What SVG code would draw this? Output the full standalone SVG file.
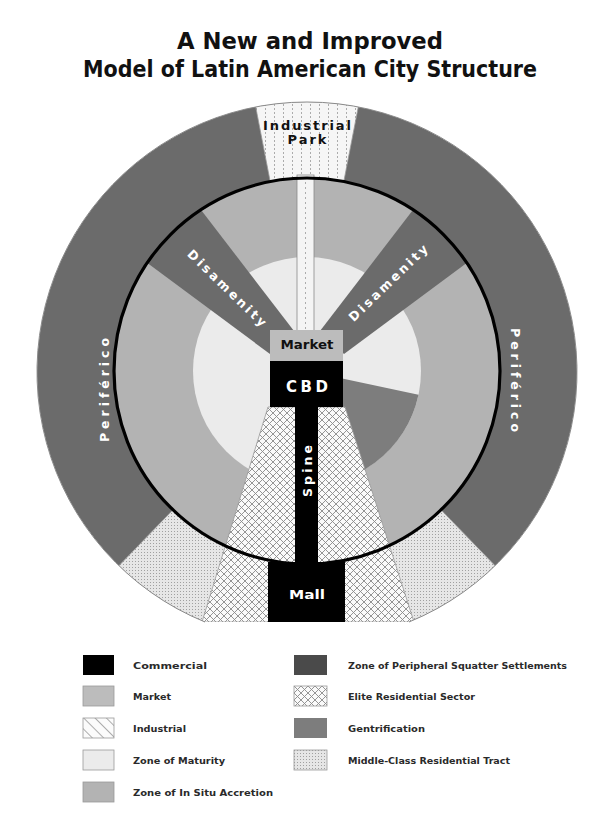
<svg xmlns="http://www.w3.org/2000/svg" width="604" height="826" viewBox="0 0 604 826">
<style>
.t{font-family:"DejaVu Sans",Lato,sans-serif;font-weight:bold}
.title{font-size:23.5px;fill:#111;text-anchor:middle}
.lg{font-size:9.5px;fill:#2a2a2a}
.wl{fill:#fff;text-anchor:middle;dominant-baseline:central}
.bl{fill:#111;text-anchor:middle;dominant-baseline:central}
.sw{stroke:#999;stroke-width:0.8}
</style>
<defs>
<pattern id="cross" patternUnits="userSpaceOnUse" width="7" height="7">
<rect width="7" height="7" fill="#fafafa"/>
<path d="M0,0L7,7M7,0L0,7" stroke="#8a8a8a" stroke-width="0.9"/>
</pattern>
<pattern id="dots" patternUnits="userSpaceOnUse" width="3" height="3">
<rect width="3" height="3" fill="#e6e6e6"/>
<rect width="1" height="1" fill="#a0a0a0"/>
</pattern>
<pattern id="ipark" patternUnits="userSpaceOnUse" width="9" height="4">
<rect width="9" height="4" fill="#f6f6f6"/>
<rect x="4" y="0" width="0.8" height="2" fill="#9a9a9a"/>
</pattern>
<pattern id="diag" patternUnits="userSpaceOnUse" width="8" height="8" patternTransform="rotate(45)">
<rect width="8" height="8" fill="#fbfbfb"/>
<rect x="0" y="0" width="8" height="0.8" fill="#999"/>
</pattern>
<clipPath id="outerClip"><path d="M205,622 A270,270 0 1 1 409,622 Z"/></clipPath>
<clipPath id="innerClip"><circle cx="307" cy="371" r="193"/></clipPath>
</defs>
<rect width="604" height="826" fill="#fff"/>

<g id="title" class="t">
<text class="title" x="310" y="49" textLength="266" lengthAdjust="spacingAndGlyphs">A New and Improved</text>
<text class="title" x="310" y="77" textLength="454" lengthAdjust="spacingAndGlyphs">Model of Latin American City Structure</text>
</g>

<g id="outer-ring" clip-path="url(#outerClip)">
<path id="periferico" d="M205,622 A270,270 0 1 1 409,622 Z" fill="#6b6b6b"/>
<path id="industrial-park" d="M307,371 L253.6,96.1 A280,280 0 0 1 360.4,96.1 Z" fill="url(#ipark)" stroke="#999" stroke-width="0.8"/>
<path id="middle-class" d="M307,371 L508.5,579.6 A290,290 0 0 1 105.5,579.6 Z" fill="url(#dots)" stroke="#999" stroke-width="0.8"/>
</g>

<g id="inner-city">
<circle id="accretion" cx="307" cy="371" r="193" fill="#b3b3b3"/>
<circle id="maturity" cx="307" cy="371" r="114" fill="#ebebeb"/>
<path id="gentrification" d="M307,371 L418.5,394.7 A114,114 0 0 1 297.1,484.6 Z" fill="#7d7d7d"/>
<g clip-path="url(#innerClip)" fill="#6b6b6b">
<polygon id="disamenity-left" points="294,331 175,176 115,239 270,354"/>
<polygon id="disamenity-right" points="320,331 439,176 499,239 344,354"/>
</g>
</g>

<g id="elite" clip-path="url(#outerClip)">
<polygon points="268,407 345,407 414,622 202,622" fill="url(#cross)" stroke="#999" stroke-width="0.8"/>
</g>

<g id="industrial-corridor">
<rect x="297" y="175" width="17" height="156" fill="#f4f4f4" stroke="#8a8a8a" stroke-width="0.8"/>
<line x1="305.5" y1="177" x2="305.5" y2="330" stroke="#999" stroke-width="0.8" stroke-dasharray="2 3"/>
</g>

<g id="rings">
<circle cx="307" cy="371" r="193" fill="none" stroke="#000" stroke-width="3.2"/>
<path d="M205,622 A270,270 0 1 1 409,622" fill="none" stroke="#8a8a8a" stroke-width="1"/>
</g>

<g id="market"><rect x="270" y="330" width="73" height="31" fill="#bcbcbc"/></g>
<g id="cbd"><rect x="270" y="361" width="73" height="46" fill="#000"/></g>
<g id="spine"><rect x="295" y="406" width="23" height="158" fill="#000"/></g>
<g id="mall"><rect x="268" y="562" width="77" height="60" fill="#000"/></g>

<g id="labels" class="t">
<text class="bl" x="307" y="125" font-size="13" textLength="88">Industrial</text>
<text class="bl" x="307" y="139" font-size="13" textLength="39">Park</text>
<text class="bl" x="307" y="345" font-size="12" textLength="53" lengthAdjust="spacingAndGlyphs">Market</text>
<text class="wl" x="307" y="387" font-size="15" textLength="42">CBD</text>
<text class="wl" x="307" y="594" font-size="13" textLength="36" lengthAdjust="spacingAndGlyphs">Mall</text>
<text class="wl" font-size="12.5" textLength="52" transform="translate(307,471) rotate(-90)">Spine</text>
<text class="wl" font-size="12.5" textLength="104" transform="translate(104,390) rotate(-90)">Periférico</text>
<text class="wl" font-size="12.5" textLength="104" transform="translate(515,380) rotate(90)">Periférico</text>
<text class="wl" font-size="12.5" textLength="104" transform="translate(227,288) rotate(44)">Disamenity</text>
<text class="wl" font-size="12.5" textLength="104" transform="translate(388,283) rotate(-44)">Disamenity</text>
</g>

<g id="legend" class="t">
<rect x="83" y="655" width="31" height="20" fill="#000"/>
<rect class="sw" x="83" y="686" width="31" height="20" fill="#bcbcbc"/>
<rect class="sw" x="83" y="718" width="31" height="20" fill="url(#diag)"/>
<rect class="sw" x="83" y="750" width="31" height="20" fill="#ebebeb"/>
<rect class="sw" x="83" y="782" width="31" height="20" fill="#b3b3b3"/>
<text class="lg" x="133" y="669" textLength="74" lengthAdjust="spacingAndGlyphs">Commercial</text>
<text class="lg" x="133" y="700" textLength="38" lengthAdjust="spacingAndGlyphs">Market</text>
<text class="lg" x="133" y="732" textLength="53" lengthAdjust="spacingAndGlyphs">Industrial</text>
<text class="lg" x="133" y="764" textLength="92" lengthAdjust="spacingAndGlyphs">Zone of Maturity</text>
<text class="lg" x="133" y="796" textLength="140" lengthAdjust="spacingAndGlyphs">Zone of In Situ Accretion</text>
<rect x="294" y="655" width="33" height="20" fill="#4a4a4a"/>
<rect class="sw" x="294" y="686" width="33" height="20" fill="url(#cross)"/>
<rect x="294" y="718" width="33" height="20" fill="#7d7d7d"/>
<rect class="sw" x="294" y="750" width="33" height="20" fill="url(#dots)"/>
<text class="lg" x="348" y="669" textLength="219" lengthAdjust="spacingAndGlyphs">Zone of Peripheral Squatter Settlements</text>
<text class="lg" x="348" y="700" textLength="127" lengthAdjust="spacingAndGlyphs">Elite Residential Sector</text>
<text class="lg" x="348" y="732" textLength="77" lengthAdjust="spacingAndGlyphs">Gentrification</text>
<text class="lg" x="348" y="764" textLength="162" lengthAdjust="spacingAndGlyphs">Middle-Class Residential Tract</text>
</g>
</svg>
